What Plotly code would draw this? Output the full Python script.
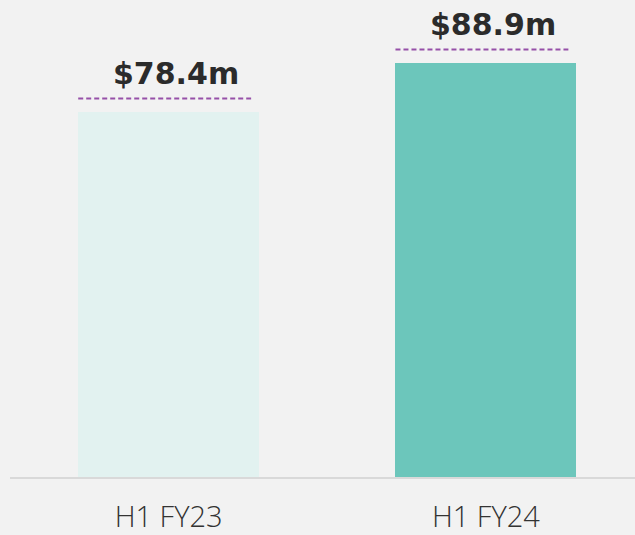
import plotly.graph_objects as go

periods = ["H1 FY23", "H1 FY24"]
revenue = [78.4, 88.9]
value_labels = ["$78.4m", "$88.9m"]
bar_colors = ["#e2f2f0", "#6cc6bb"]

fig = go.Figure()

fig.add_trace(
    go.Bar(
        x=periods,
        y=revenue,
        marker=dict(color=bar_colors, line=dict(width=0)),
        width=0.57,
        hoverinfo="skip",
    )
)

# Dashed marker line just above each bar plus the bold value label
for i, (period, val, label) in enumerate(zip(periods, revenue, value_labels)):
    fig.add_shape(
        type="line",
        xref="x", yref="y",
        x0=i - 0.285, x1=i + 0.26,
        y0=val + 2.8, y1=val + 2.8,
        line=dict(color="#9650a8", width=2, dash="5px,3px"),
    )
    fig.add_annotation(
        x=period, y=val,
        text=f"<b>{label}</b>",
        showarrow=False,
        yanchor="bottom",
        yshift=19,
        xshift=7,
        font=dict(family="DejaVu Sans", size=30, color="#2b2b2b"),
    )

fig.update_layout(
    width=635,
    height=535,
    margin=dict(l=10, r=0, t=10, b=53),
    paper_bgcolor="#f2f2f2",
    plot_bgcolor="#f2f2f2",
    showlegend=False,
    bargap=0,
)

fig.update_xaxes(
    type="category",
    range=[-0.5, 1.47],
    showgrid=False,
    showline=True,
    linecolor="#d9d9d9",
    linewidth=2,
    ticks="",
    tickfont=dict(family="Open Sans", size=29, color="#333333", weight=300),
    ticklabelstandoff=13,
)
fig.update_yaxes(
    range=[0, 100.2],
    visible=False,
    showgrid=False,
    zeroline=False,
)

# drop the default page margin so the figure sits at the window corner
fig.write_html(
    "out.html",
    config={"displayModeBar": False},
    post_script="document.body.style.margin='0';document.body.style.background='#f2f2f2';",
)
